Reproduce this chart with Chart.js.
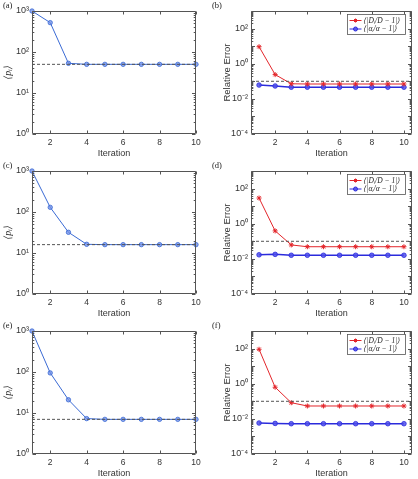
<!DOCTYPE html>
<html>
<head>
<meta charset="utf-8">
<script src="https://cdn.jsdelivr.net/npm/chart.js@4.4.1/dist/chart.umd.min.js"></script>
<style>
  html, body { margin: 0; padding: 0; background: #fff; overflow: hidden; }
  #fig { position: relative; width: 418px; height: 479px; }
  canvas { position: absolute; }
</style>
</head>
<body>
<div id="fig">
  <canvas id="panelA" width="209" height="160" style="left:0;top:0"></canvas>
  <canvas id="panelB" width="209" height="160" style="left:209px;top:0"></canvas>
  <canvas id="panelC" width="209" height="160" style="left:0;top:160px"></canvas>
  <canvas id="panelD" width="209" height="160" style="left:209px;top:160px"></canvas>
  <canvas id="panelE" width="209" height="160" style="left:0;top:320px"></canvas>
  <canvas id="panelF" width="209" height="160" style="left:209px;top:320px"></canvas>
</div>
<script>
// =====================================================
// DATA
// =====================================================
const iterations = [1, 2, 3, 4, 5, 6, 7, 8, 9, 10];
const iterTicks = [2, 4, 6, 8, 10];
const iterRangeLeft = [1, 10];
const iterRangeRight = [0.5, 10.5];

// <p_i> per iteration, panels (a), (c), (e)
const pMeanA = [1000, 520, 53, 50, 50, 50, 50, 50, 50, 50];
const pMeanC = [1000, 130, 32, 16.3, 16, 16, 16, 16, 16, 16];
const pMeanE = [1000, 95, 21, 7.3, 7, 7, 7, 7, 7, 7];
const pTarget = [50, 16, 7];

// relative errors, panels (b), (d), (f)
const errDB = [9.3, 0.24, 0.072, 0.07, 0.07, 0.07, 0.07, 0.07, 0.07, 0.07];
const errAlphaB = [0.061, 0.054, 0.046, 0.046, 0.046, 0.046, 0.046, 0.046, 0.046, 0.046];
const errDD = [29, 0.39, 0.062, 0.049, 0.049, 0.049, 0.049, 0.049, 0.049, 0.049];
const errAlphaD = [0.017, 0.018, 0.016, 0.016, 0.016, 0.016, 0.016, 0.016, 0.016, 0.016];
const errDF = [91, 0.63, 0.083, 0.054, 0.054, 0.054, 0.054, 0.054, 0.054, 0.054];
const errAlphaF = [0.0058, 0.0055, 0.0053, 0.0053, 0.0053, 0.0053, 0.0053, 0.0053, 0.0053, 0.0053];
const errTolerance = 0.1;

// tick labels
const pTickValues = [1, 10, 100, 1000];
const pTickLabels = ['10⁰', '10¹', '10²', '10³'];
const errTickValues = [1e-4, 1e-2, 1, 100];
const errTickLabels = ['10⁻⁴', '10⁻²', '10⁰', '10²'];
const pRange = [1, 1000];
const errRange = [1e-4, 1e3];

const panelLabels = ['(a)', '(b)', '(c)', '(d)', '(e)', '(f)'];
const legendD = '⟨|Dᵢ/D − 1|⟩';
const legendAlpha = '⟨|αᵢ/α − 1|⟩';

// =====================================================
// STYLE
// =====================================================
const AXIS_COLOR = '#333';
const BLUE_LEFT = '#3a6ad4';
const RED = '#e3262b';
const BLUE_RIGHT = '#2b2bdc';
const SANS = '"Liberation Sans", Arial, sans-serif';
const SERIF = '"Liberation Serif", "DejaVu Serif", serif';

// =====================================================
// PLUGIN: matlab-like box, inward ticks, panel tag, legend
// =====================================================
const matlabBox = {
  id: 'matlabBox',
  afterDatasetsDraw(chart, args, opts) {
    const { ctx, chartArea: a, scales } = chart;
    const x = scales.x, y = scales.y;
    const L = Math.round(a.left) + 0.5, R = Math.round(a.right) - 0.5;
    const T = Math.round(a.top) + 0.5, B = Math.round(a.bottom) - 0.5;

    ctx.save();
    ctx.strokeStyle = '#555';
    ctx.lineWidth = 1;
    ctx.beginPath();
    ctx.rect(L, T, R - L, B - T);

    x.ticks.forEach(t => {
      const px = Math.round(x.getPixelForValue(t.value)) + 0.5;
      ctx.moveTo(px, B); ctx.lineTo(px, B - 3);
      ctx.moveTo(px, T); ctx.lineTo(px, T + 3);
    });

    const e0 = Math.floor(Math.log10(y.min));
    const e1 = Math.round(Math.log10(y.max));
    for (let e = e0; e <= e1; e++) {
      for (let m = 1; m < 10; m++) {
        const v = m * Math.pow(10, e);
        if (v < y.min * 0.999 || v > y.max * 1.001) continue;
        const py = Math.round(y.getPixelForValue(v)) + 0.5;
        const len = m === 1 ? 3.5 : 1.8;
        ctx.moveTo(L, py); ctx.lineTo(L + len, py);
        ctx.moveTo(R, py); ctx.lineTo(R - len, py);
      }
    }
    ctx.stroke();

    // panel tag
    ctx.fillStyle = '#222';
    ctx.font = '8.5px ' + SERIF;
    ctx.textBaseline = 'middle';
    ctx.textAlign = 'left';
    ctx.fillText(opts.tag, 3, 6);

    // legend inside the axes
    if (opts.legend) {
      const bw = 58, bh = 20;
      const bx = Math.round(a.right) - bw - 7 + 0.5, by = Math.round(a.top) + 3 + 0.5;
      ctx.fillStyle = '#fff';
      ctx.fillRect(bx, by, bw, bh);
      ctx.strokeStyle = '#555';
      ctx.lineWidth = 0.8;
      ctx.strokeRect(bx, by, bw, bh);

      chart.data.datasets.filter(d => d.label).forEach((d, i) => {
        const ly = by + 6 + i * 8.5;
        ctx.strokeStyle = d.borderColor;
        ctx.lineWidth = 1;
        ctx.beginPath();
        ctx.moveTo(bx + 2, ly); ctx.lineTo(bx + 14, ly);
        ctx.stroke();
        const cx = bx + 8;
        ctx.beginPath();
        if (d.pointStyle === 'circle') {
          ctx.fillStyle = d.pointBackgroundColor;
          ctx.arc(cx, ly, 2, 0, Math.PI * 2);
          ctx.fill();
          ctx.stroke();
        } else {
          ctx.moveTo(cx - 2, ly); ctx.lineTo(cx + 2, ly);
          ctx.moveTo(cx, ly - 2); ctx.lineTo(cx, ly + 2);
          ctx.moveTo(cx - 1.5, ly - 1.5); ctx.lineTo(cx + 1.5, ly + 1.5);
          ctx.moveTo(cx - 1.5, ly + 1.5); ctx.lineTo(cx + 1.5, ly - 1.5);
          ctx.stroke();
        }
        ctx.fillStyle = '#222';
        ctx.font = 'italic 7.5px ' + SERIF;
        ctx.fillText(d.label, bx + 16, ly + 0.5);
      });
    }
    ctx.restore();
  }
};

// =====================================================
// SCALES
// =====================================================
function iterationScale(range) {
  return {
    type: 'linear',
    min: range[0],
    max: range[1],
    afterBuildTicks: s => { s.ticks = iterTicks.map(v => ({ value: v })); },
    afterFit: s => { s.height = 26; },
    grid: { display: false, drawTicks: false },
    border: { display: false },
    ticks: {
      padding: 4, maxRotation: 0, autoSkip: false, color: AXIS_COLOR,
      font: { family: SANS, size: 8.5 }
    },
    title: {
      display: true, text: 'Iteration', color: AXIS_COLOR,
      font: { family: SANS, size: 9 }, padding: { top: 0, bottom: 1 }
    }
  };
}

function logScale(range, values, labels, width, title) {
  return {
    type: 'logarithmic',
    min: range[0],
    max: range[1],
    afterBuildTicks: s => { s.ticks = values.map(v => ({ value: v })); },
    afterFit: s => { s.width = width; },
    grid: { display: false, drawTicks: false },
    border: { display: false },
    ticks: {
      padding: 3, autoSkip: false, color: AXIS_COLOR,
      font: { family: SANS, size: 9 },
      callback: (v, i) => labels[i]
    },
    title
  };
}

function points(values) {
  return iterations.map((it, i) => ({ x: it, y: values[i] }));
}

function refLine(range, value) {
  return {
    label: '',
    data: [{ x: range[0], y: value }, { x: range[1], y: value }],
    borderColor: '#555',
    borderWidth: 1,
    borderDash: [3, 2],
    pointRadius: 0,
    clip: false
  };
}

// =====================================================
// LEFT COLUMN: <p_i>
// =====================================================
function drawMeanPanel(id, tag, values, target) {
  new Chart(document.getElementById(id), {
    type: 'line',
    data: {
      datasets: [
        refLine(iterRangeLeft, target),
        {
          label: '',
          data: points(values),
          borderColor: BLUE_LEFT,
          borderWidth: 1,
          pointStyle: 'circle',
          pointRadius: 2.2,
          pointBorderWidth: 0.8,
          pointBorderColor: BLUE_LEFT,
          pointBackgroundColor: 'rgba(110,140,230,0.75)',
          clip: false
        }
      ]
    },
    options: {
      responsive: false,
      animation: false,
      events: [],
      layout: { padding: { left: 0, top: 11, right: 13, bottom: 0 } },
      scales: {
        x: iterationScale(iterRangeLeft),
        y: logScale(pRange, pTickValues, pTickLabels, 32, {
          display: true, text: '⟨pᵢ⟩', color: AXIS_COLOR,
          font: { family: SERIF, style: 'italic', size: 10 },
          padding: { top: 2, bottom: 0 }
        })
      },
      plugins: {
        legend: { display: false },
        tooltip: { enabled: false },
        matlabBox: { tag, legend: false }
      }
    },
    plugins: [matlabBox]
  });
}

// =====================================================
// RIGHT COLUMN: relative errors
// =====================================================
function drawErrorPanel(id, tag, errD, errAlpha) {
  new Chart(document.getElementById(id), {
    type: 'line',
    data: {
      datasets: [
        refLine(iterRangeRight, errTolerance),
        {
          label: legendD,
          data: points(errD),
          borderColor: RED,
          borderWidth: 1,
          pointStyle: 'star',
          pointRadius: 2.5,
          pointBorderWidth: 1,
          pointBorderColor: RED,
          pointBackgroundColor: RED,
          clip: false
        },
        {
          label: legendAlpha,
          data: points(errAlpha),
          borderColor: BLUE_RIGHT,
          borderWidth: 1.5,
          pointStyle: 'circle',
          pointRadius: 2.3,
          pointBorderWidth: 0.8,
          pointBorderColor: BLUE_RIGHT,
          pointBackgroundColor: 'rgba(80,80,235,0.85)',
          clip: false
        }
      ]
    },
    options: {
      responsive: false,
      animation: false,
      events: [],
      layout: { padding: { left: 0, top: 11, right: 6, bottom: 0 } },
      scales: {
        x: iterationScale(iterRangeRight),
        y: logScale(errRange, errTickValues, errTickLabels, 42, {
          display: true, text: 'Relative Error', color: AXIS_COLOR,
          font: { family: SANS, size: 9.5 },
          padding: { top: 13, bottom: 0 }
        })
      },
      plugins: {
        legend: { display: false },
        tooltip: { enabled: false },
        matlabBox: { tag, legend: true }
      }
    },
    plugins: [matlabBox]
  });
}

// =====================================================
// INIT
// =====================================================
drawMeanPanel('panelA', panelLabels[0], pMeanA, pTarget[0]);
drawErrorPanel('panelB', panelLabels[1], errDB, errAlphaB);
drawMeanPanel('panelC', panelLabels[2], pMeanC, pTarget[1]);
drawErrorPanel('panelD', panelLabels[3], errDD, errAlphaD);
drawMeanPanel('panelE', panelLabels[4], pMeanE, pTarget[2]);
drawErrorPanel('panelF', panelLabels[5], errDF, errAlphaF);
</script>
</body>
</html>
